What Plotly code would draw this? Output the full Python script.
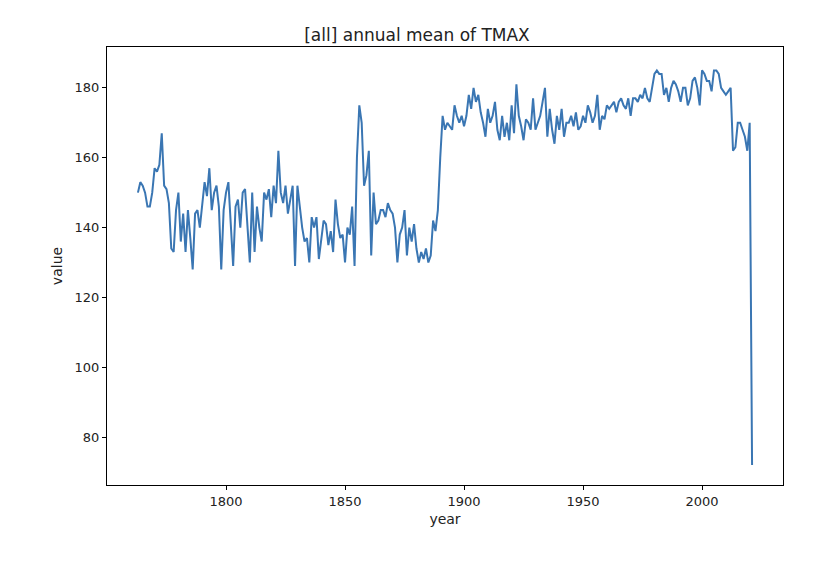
import plotly.graph_objects as go

# annual mean TMAX
start_year = 1763
values = [
    150, 153, 152, 150, 146, 146, 150, 157,
    156, 158, 167, 152, 151, 147, 134, 133, 145, 150,
    136, 144, 133, 145, 137, 128, 144, 145, 140, 146,
    153, 149, 157, 145, 150, 152, 146, 128, 145, 150,
    153, 141, 129, 146, 148, 140, 150, 151, 141, 130,
    150, 133, 146, 140, 136, 150, 148, 151, 143, 152,
    147, 162, 150, 147, 152, 144, 148, 152, 129, 152,
    146, 140, 136, 137, 130, 143, 140, 143, 131, 137,
    142, 141, 135, 139, 133, 148, 141, 137, 138, 130,
    140, 138, 146, 129, 160, 175, 170, 152, 155, 162,
    132, 150, 141, 142, 145, 145, 143, 147, 145, 144,
    140, 130, 138, 140, 145, 132, 140, 136, 141, 134,
    130, 133, 131, 134, 130, 132, 142, 139, 145, 160,
    172, 168, 170, 169, 168, 175, 172, 170, 172, 169,
    172, 178, 174, 180, 176, 178, 173, 170, 166, 174,
    170, 172, 176, 168, 165, 172, 166, 170, 165, 175,
    167, 181, 172, 169, 165, 171, 170, 168, 177, 168,
    170, 172, 176, 180, 166, 174, 168, 164, 172, 168,
    174, 166, 170, 170, 172, 169, 173, 168, 169, 172,
    170, 175, 173, 170, 172, 178, 168, 172, 171, 175,
    174, 175, 176, 173, 176, 177, 175, 174, 177, 172,
    177, 177, 176, 178, 177, 180, 177, 176, 180, 184,
    185, 184, 184, 178, 180, 176, 180, 182, 181, 179,
    176, 180, 180, 175, 177, 182, 183, 180, 175, 185,
    184, 182, 182, 179, 185, 185, 184, 180, 179, 178,
    179, 180, 162, 163, 170, 170, 168, 166, 162, 170, 72,
]
years = list(range(start_year, start_year + len(values)))

fig = go.Figure(go.Scatter(x=years, y=values, mode="lines",
                           line=dict(color="#3a76b3", width=2)))

axis_style = dict(showgrid=False, zeroline=False, showline=True, linecolor="black",
                  linewidth=1, mirror=True, ticks="outside", ticklen=4,
                  tickcolor="black", tickfont=dict(size=13, color="#222"))

fig.update_layout(
    width=818, height=566,
    margin=dict(l=99, r=43, t=39, b=89),
    paper_bgcolor="white", plot_bgcolor="white",
    font=dict(family="DejaVu Sans", color="#222"),
    title=dict(text="[all] annual mean of TMAX", x=0.5, xanchor="center",
               yref="paper", y=1.0, yanchor="bottom", pad=dict(b=6),
               font=dict(size=17)),
    showlegend=False,
)
fig.update_xaxes(axis_style, range=[1750, 2034], tickvals=[1800, 1850, 1900, 1950, 2000],
                 title=dict(text="year", font=dict(size=14), standoff=6))
fig.update_yaxes(axis_style, range=[66.3, 191.7], tickvals=[80, 100, 120, 140, 160, 180],
                 title=dict(text="value", font=dict(size=14), standoff=8))

fig.write_html("out.html")
